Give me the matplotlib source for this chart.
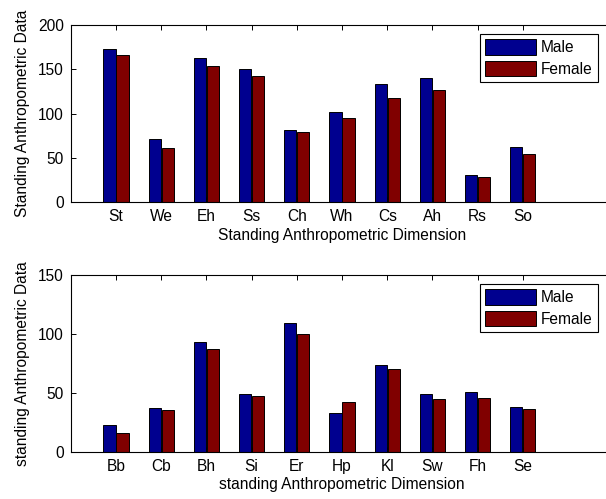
import matplotlib
matplotlib.use("Agg")
import matplotlib.pyplot as plt
import numpy as np

plt.rcParams['font.family'] = ['Liberation Sans', 'DejaVu Sans']

# standing dimensions (top panel)
top_labels = ["St", "We", "Eh", "Ss", "Ch", "Wh", "Cs", "Ah", "Rs", "So"]
top_male = [173, 71, 163, 150, 82, 102, 133, 140, 31, 62]
top_female = [166, 61, 154, 143, 79, 95, 118, 127, 28, 55]

# second set (bottom panel)
bot_labels = ["Bb", "Cb", "Bh", "Si", "Er", "Hp", "Kl", "Sw", "Fh", "Se"]
bot_male = [23, 37, 93, 49, 109, 33, 74, 49, 51, 38]
bot_female = [16, 35, 87, 47, 100, 42, 70, 45, 46, 36]

male_col = "#00008f"
female_col = "#800000"
fs = 11.2

W, H = 606, 499
fig = plt.figure(figsize=(W / 100, H / 100), dpi=100)


def panel(rect, labels, male, female, ymax, ylab, xlab):
    ax = fig.add_axes(rect)
    x = np.arange(1, len(labels) + 1)
    ax.bar(x - 0.145, male, width=0.27, color=male_col, edgecolor="black",
           linewidth=0.7, label="Male")
    ax.bar(x + 0.145, female, width=0.27, color=female_col, edgecolor="black",
           linewidth=0.7, label="Female")
    ax.set_xlim(0, 12)
    ax.set_ylim(0, ymax)
    ax.set_yticks(np.arange(0, ymax + 1, 50))
    ax.set_xticks(x)
    ax.set_xticklabels(labels)
    ax.tick_params(direction="in", length=3.6, width=0.7, top=True, right=True,
                   labelsize=fs, pad=5)
    for s in ax.spines.values():
        s.set_linewidth(0.8)
    ax.set_ylabel(ylab, fontsize=fs, labelpad=6)
    ax.set_xlabel(xlab, fontsize=fs, labelpad=2.5)
    return ax


ax1 = panel([70.8 / W, 1 - 202.3 / H, 542.4 / W, 177.3 / H], top_labels,
            top_male, top_female, 200, "Standing Anthropometric Data",
            "Standing Anthropometric Dimension")
ax2 = panel([70.8 / W, 1 - 451.7 / H, 542.4 / W, 176.7 / H], bot_labels,
            bot_male, bot_female, 150, "standing Anthropometric Data",
            "standing Anthropometric Dimension")

for ax, top in [(ax1, 34), (ax2, 284)]:
    leg = ax.legend(loc="upper right", bbox_to_anchor=(598 / W, 1 - top / H),
                    bbox_transform=fig.transFigure, borderaxespad=0,
                    fancybox=False, edgecolor="black", framealpha=1,
                    fontsize=fs, handlelength=3.25, handleheight=1.15,
                    handletextpad=0.35, labelspacing=0.38, borderpad=0.33)
    leg.get_frame().set_linewidth(0.8)

fig.savefig("out.png", dpi=100)
